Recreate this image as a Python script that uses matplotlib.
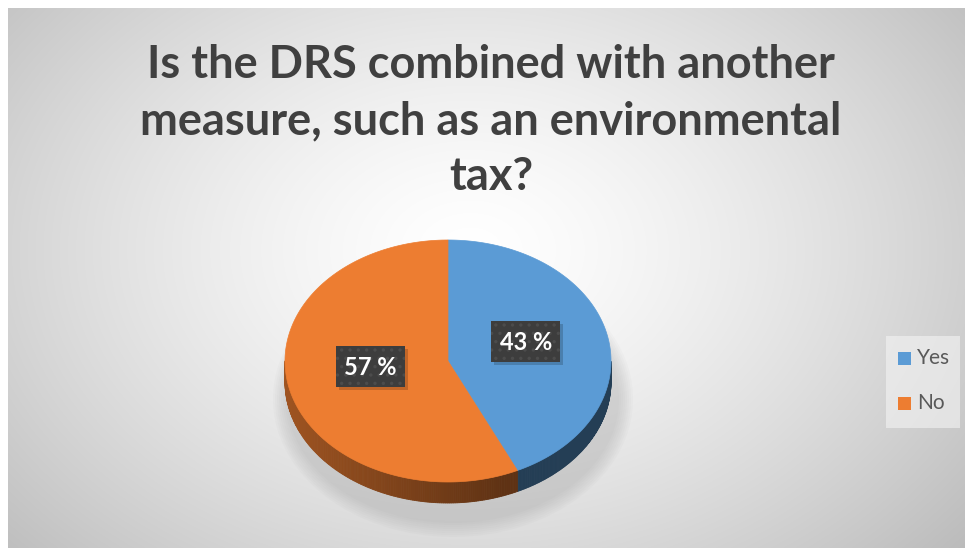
import numpy as np
import matplotlib.pyplot as plt
from matplotlib.patches import Polygon, Rectangle, Ellipse

# data
categories = ['Yes', 'No']
shares = [43, 57]
colors = ['#5B9BD5', '#ED7D31']
title = 'Is the DRS combined with another\nmeasure, such as an environmental\ntax?'

W, H = 965, 548
fig = plt.figure(figsize=(W / 100, H / 100), dpi=100)
ax = fig.add_axes([0, 0, 1, 1])
ax.set_xlim(0, W)
ax.set_ylim(H, 0)
ax.axis('off')

# radial gradient background, white margin top/left
yy, xx = np.mgrid[0:H, 0:W]
d = np.sqrt(((xx - 470) / 600.0) ** 2 + ((yy - 250) / 430.0) ** 2)
g = 1 - 0.24 * np.clip(d, 0, 1.2) ** 1.4
bg = np.dstack([g, g, g])
bg[:8, :] = 1
bg[:, :8] = 1
ax.imshow(bg, extent=[0, W, H, 0], zorder=0, interpolation='bilinear')

# pie geometry (pixels)
cx, cy, a, b, depth = 448, 361, 163, 121, 21


def pt(t):
    return cx + a * np.cos(t), cy - b * np.sin(t)


# soft shadow under the pie
for i in range(8):
    ax.add_patch(Ellipse((cx + 5, cy + 38), 2 * a + 34 - i * 4, 2 * b + 34 - i * 4,
                         facecolor='#8f8f8f', edgecolor='none', alpha=0.04, zorder=1))

fracs = np.array(shares) / sum(shares)
wedges = []
start = np.pi / 2
for f in fracs:
    end = start - 2 * np.pi * f
    wedges.append((end, start))
    start = end

# visible side walls
for (t0, t1), col in zip(wedges, colors):
    rgb = np.array(plt.matplotlib.colors.to_rgb(col))
    ts = np.linspace(t0, t1, 300)
    for ta, tb in zip(ts[:-1], ts[1:]):
        if np.sin((ta + tb) / 2) > 0:
            continue
        xa, ya = pt(ta)
        xb, yb = pt(tb)
        k = max(0.4, 0.47 - 0.2 * np.cos((ta + tb) / 2))
        c = rgb * k
        ax.add_patch(Polygon([(xa, ya), (xb, yb), (xb, yb + depth), (xa, ya + depth)],
                             closed=True, facecolor=c, edgecolor=c, linewidth=0.6, zorder=2))

# top faces
for (t0, t1), col in zip(wedges, colors):
    ts = np.linspace(t0, t1, 300)
    xs, ys = pt(ts)
    verts = [(cx, cy)] + list(zip(xs, ys))
    ax.add_patch(Polygon(verts, closed=True, facecolor=col, edgecolor=col,
                         linewidth=0.5, zorder=3))

# data labels
plt.rcParams['hatch.linewidth'] = 1.2
for (t0, t1), s in zip(wedges, shares):
    tm = (t0 + t1) / 2
    lx = cx + 0.49 * a * np.cos(tm)
    ly = cy - 0.49 * b * np.sin(tm) - 7
    bw, bh = 69, 41
    ax.add_patch(Rectangle((lx - bw / 2 + 3, ly - bh / 2 + 3), bw, bh,
                           facecolor='#000000', alpha=0.18, edgecolor='none', zorder=4))
    ax.add_patch(Rectangle((lx - bw / 2, ly - bh / 2), bw, bh, facecolor='#3d3d3d',
                           edgecolor='#4c4c4c', hatch='..', linewidth=0, zorder=5))
    ax.text(lx, ly + 1, f'{s} %', color='white', fontsize=17, fontweight='bold',
            family='Lato', ha='center', va='center', zorder=6)

# title
ax.text(491, 121, title, ha='center', va='center', fontsize=32.5, fontweight='bold',
        family='Lato', color='#404040', linespacing=1.42, zorder=6)

# legend
ax.add_patch(Rectangle((886, 336), 74, 92, facecolor='#f4f4f4', alpha=0.6,
                       edgecolor='none', zorder=5))
for i, (cat, col) in enumerate(zip(categories, colors)):
    y = 358 + i * 45
    ax.add_patch(Rectangle((898, y - 6), 13, 13, facecolor=col, edgecolor='none', zorder=6))
    ax.text(917, y, cat, fontsize=15, family='Lato', color='#595959',
            ha='left', va='center', zorder=6)

fig.savefig('out.png', dpi=100)
